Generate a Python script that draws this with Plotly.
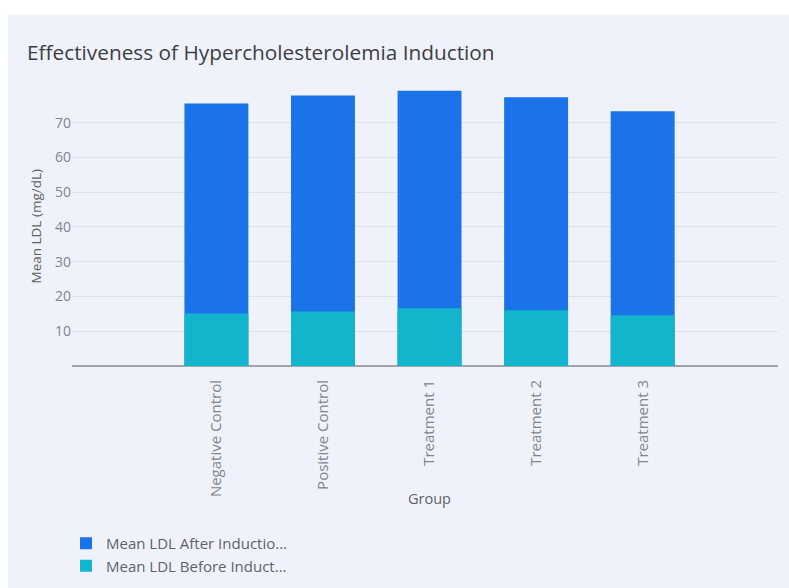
import plotly.graph_objects as go

groups = ["Negative Control", "Positive Control", "Treatment 1", "Treatment 2", "Treatment 3"]
ldl_after = [75.5, 77.8, 79.2, 77.3, 73.3]
ldl_before = [15.1, 15.7, 16.6, 16.0, 14.6]
y_ticks = [10, 20, 30, 40, 50, 60, 70, 80]
y_tick_text = ["10", "20", "30", "40", "50", "60", "70", ""]

W, H = 789, 588
L, R, T, B = 72, 11, 87, 222

fig = go.Figure()
fig.add_trace(go.Bar(x=groups, y=ldl_after, name="Mean LDL After Inductio...",
                     marker=dict(color="#1a73e8", line=dict(width=0))))
fig.add_trace(go.Bar(x=groups, y=ldl_before, name="Mean LDL Before Induct...",
                     marker=dict(color="#12b5cb", line=dict(width=0))))

plot_h = H - T - B
plot_w = W - L - R
y0_px = H - B

fig.update_layout(
    width=W, height=H,
    margin=dict(l=L, r=R, t=T, b=B, pad=0, autoexpand=False),
    paper_bgcolor="white",
    plot_bgcolor="rgba(0,0,0,0)",
    barmode="overlay",
    bargap=0.40,
    font=dict(family="Open Sans", color="#80868b", size=13),
    title=dict(text="Effectiveness of Hypercholesterolemia Induction",
               x=27 / W, xref="container", xanchor="left",
               y=1 - 53 / H, yref="container", yanchor="middle",
               font=dict(family="Open Sans", size=20.8, color="#3c4043")),
    showlegend=True,
    legend=dict(orientation="v", x=66 / W, xref="container", xanchor="left",
                y=1 - 527 / H, yref="container", yanchor="top",
                bgcolor="rgba(0,0,0,0)", font=dict(size=15, color="#5f6368"),
                itemwidth=30, tracegroupgap=0, traceorder="normal"),
    xaxis=dict(range=[-1.355, 5.27], tickangle=-90, showgrid=False,
               showline=False, zeroline=False, automargin=False,
               ticks="outside", ticklen=7, tickcolor="rgba(0,0,0,0)",
               tickfont=dict(size=15, color="#80868b")),
    yaxis=dict(range=[0, 80.25], tickvals=y_ticks, ticktext=y_tick_text,
               showgrid=True, gridcolor="#dde1e8", gridwidth=1, automargin=False,
               zeroline=True, zerolinecolor="#a0a5ab", zerolinewidth=2,
               showline=False, ticks="", tickfont=dict(size=14, color="#80868b")),
    shapes=[dict(type="rect", xref="paper", yref="paper",
                 x0=(8 - L) / plot_w, x1=(W + 5 - L) / plot_w,
                 y0=-(B + 5) / plot_h, y1=1 + (T - 15) / plot_h,
                 fillcolor="#eff2fa", line=dict(width=0), layer="below")],
    annotations=[
        dict(text="Mean LDL (mg/dL)", textangle=-90, xref="paper", yref="paper",
             x=(35 - L) / plot_w, y=0.5, xanchor="center", yanchor="middle",
             showarrow=False, font=dict(size=13.5, color="#5f6368")),
        dict(text="Group", xref="paper", yref="paper",
             x=(430 - L) / plot_w, y=(y0_px - 498) / plot_h,
             xanchor="center", yanchor="middle",
             showarrow=False, font=dict(size=14.5, color="#5f6368")),
    ],
)

fig.write_html("out.html")
